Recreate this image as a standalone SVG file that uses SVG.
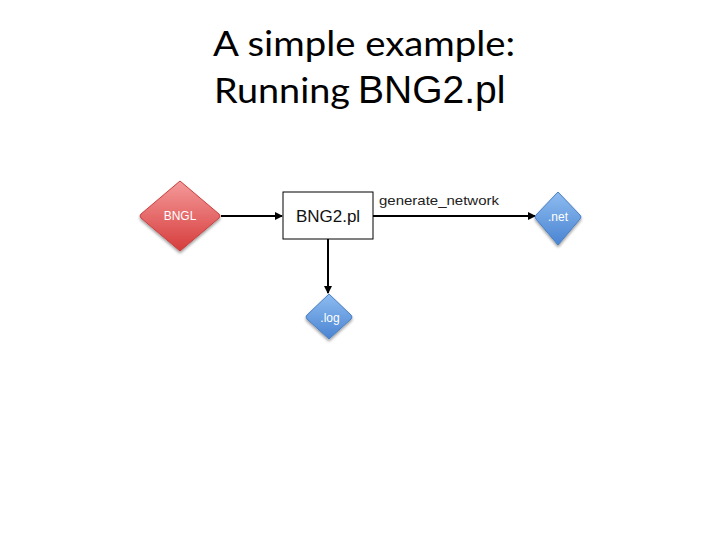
<svg xmlns="http://www.w3.org/2000/svg" width="720" height="540" viewBox="0 0 720 540">
<style>
.title{font-family:Lato,"Open Sans","Liberation Sans",sans-serif;font-size:34px;fill:#000}
.arial{font-family:"Liberation Sans",Arial,sans-serif}
.dlabel{font-family:"Liberation Sans",Arial,sans-serif;font-size:12px;fill:#fff;text-anchor:middle}
.conn{stroke:#000;stroke-width:2;fill:none}
</style>
<defs>
<linearGradient id="red" x1="0" y1="0" x2="0" y2="1">
<stop offset="0" stop-color="#f59a9a"/>
<stop offset="1" stop-color="#d63c3c"/>
</linearGradient>
<linearGradient id="blue" x1="0" y1="0" x2="0" y2="1">
<stop offset="0" stop-color="#8dbcf0"/>
<stop offset="1" stop-color="#4a84d2"/>
</linearGradient>
<filter id="sh" x="-30%" y="-30%" width="160%" height="170%">
<feGaussianBlur in="SourceAlpha" stdDeviation="1.5"/>
<feOffset dx="0" dy="2" result="b"/>
<feComponentTransfer><feFuncA type="linear" slope="0.4"/></feComponentTransfer>
<feMerge><feMergeNode/><feMergeNode in="SourceGraphic"/></feMerge>
</filter>
<marker id="arr" markerWidth="8" markerHeight="8" refX="7" refY="4" orient="auto" markerUnits="userSpaceOnUse">
<path d="M0,0 L8,4 L0,8 z" fill="#000"/>
</marker>
</defs>
<g id="title">
<text class="title" x="364" y="56" text-anchor="middle" textLength="302" lengthAdjust="spacingAndGlyphs">A simple example:</text>
<text y="103" class="title"><tspan x="214" textLength="136" lengthAdjust="spacingAndGlyphs">Running</tspan><tspan class="arial" x="358" font-size="39">BNG2.pl</tspan></text>
</g>
<g id="connectors">
<line class="conn" x1="221" y1="216" x2="282" y2="216" marker-end="url(#arr)"/>
<line class="conn" x1="373" y1="216" x2="535" y2="216" marker-end="url(#arr)"/>
<line class="conn" x1="328" y1="239" x2="328" y2="293" marker-end="url(#arr)"/>
<text class="arial" x="379" y="205" font-size="13" fill="#222" textLength="120" lengthAdjust="spacingAndGlyphs">generate_network</text>
</g>
<g id="bngl">
<path d="M180,181 L219,214 Q221,216 219,218 L180,251 L141,218 Q139,216 141,214 Z" fill="url(#red)" stroke="#c9403f" stroke-width="1" filter="url(#sh)"/>
<text class="dlabel" x="180" y="220">BNGL</text>
</g>
<g id="bng2pl">
<rect x="283" y="192" width="90" height="47" fill="#fff" stroke="#000" stroke-width="1"/>
<text class="arial" x="328" y="222" font-size="17" text-anchor="middle" fill="#111">BNG2.pl</text>
</g>
<g id="net">
<path d="M558,192 L580,215 Q582,217 580,219 L558,245 L536,219 Q534,217 536,215 Z" fill="url(#blue)" stroke="#4a7fc4" stroke-width="1" filter="url(#sh)"/>
<text class="dlabel" x="558" y="221">.net</text>
</g>
<g id="log">
<path d="M329,294 L351,315 Q353,317 351,319 L329,339 L307,319 Q305,317 307,315 Z" fill="url(#blue)" stroke="#4a7fc4" stroke-width="1" filter="url(#sh)"/>
<text class="dlabel" x="330" y="322">.log</text>
</g>
</svg>
